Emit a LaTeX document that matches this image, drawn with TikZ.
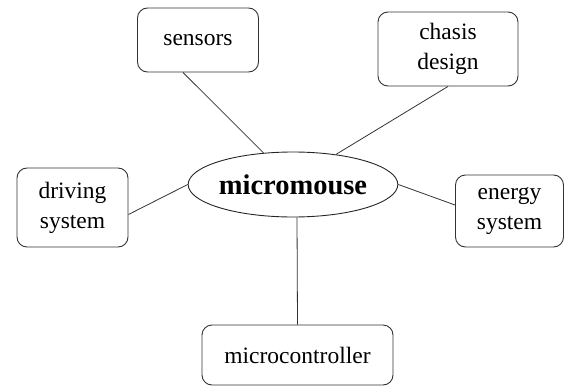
\documentclass[tikz,border=0pt]{standalone}
\usepackage{fontspec}
\setmainfont{Liberation Serif}
\usetikzlibrary{shapes.geometric}
\begin{document}
\begin{tikzpicture}[x=1pt,y=-1pt,
  topic/.style={draw=black!80,line width=0.9pt,rounded corners=10pt,align=center,
    font=\fontsize{23.5}{30}\selectfont,inner sep=0pt},
  hub/.style={draw=black!85,line width=0.9pt,ellipse,inner sep=0pt,
    font=\fontsize{28.5}{30}\selectfont\bfseries},
  link/.style={draw=black!80,line width=0.8pt}]
\useasboundingbox (0,0) rectangle (565,388);
\node[hub,minimum width=200pt,minimum height=65pt] (mm) at (293,184.5) {micromouse};
\node[topic,minimum width=121pt,minimum height=64pt] (sensors) at (198,40) {sensors};
\node[topic,minimum width=140pt,minimum height=74pt] (chasis) at (448,49) {chasis\\design};
\node[topic,minimum width=111pt,minimum height=79pt] (driving) at (72.5,207.5) {driving\\system};
\node[topic,minimum width=108pt,minimum height=72pt] (energy) at (509.5,211) {energy\\system};
\node[topic,minimum width=191pt,minimum height=60pt] (micro) at (297.5,355) {microcontroller};
\draw[link] ([xshift=-15pt]sensors.south) -- (mm.133);
\draw[link] (chasis.south) -- (mm.35);
\draw[link] ([yshift=-7pt]driving.east) -- (mm.west);
\draw[link] (mm.east) -- ([yshift=6pt]energy.west);
\draw[link] ([xshift=4pt]mm.south) -- (micro.north);
\end{tikzpicture}
\end{document}
